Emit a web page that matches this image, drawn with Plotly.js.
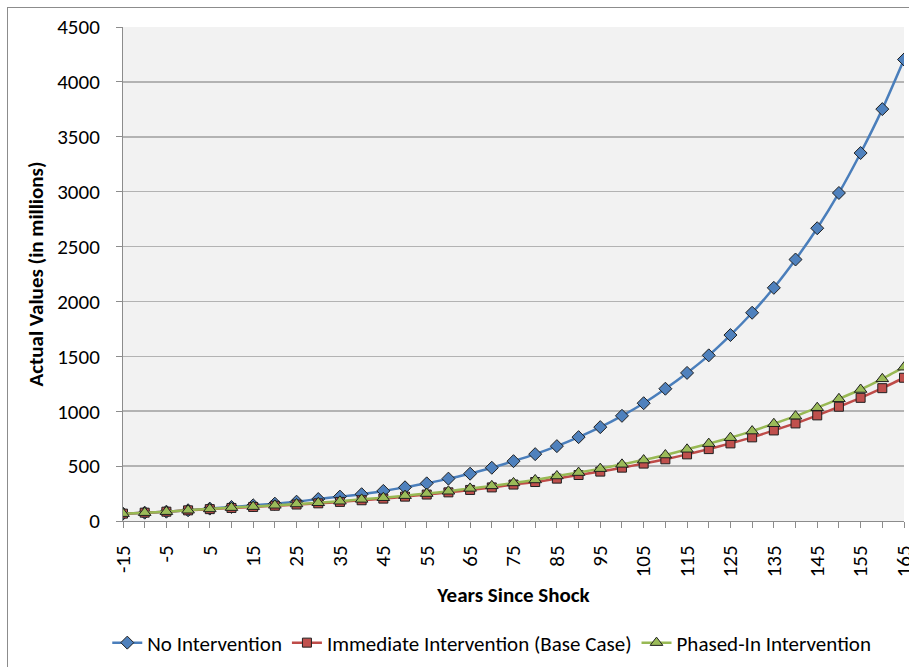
<!DOCTYPE html>
<html>
<head>
<meta charset="utf-8">
<script src="https://cdn.plot.ly/plotly-3.0.1.min.js"></script>
<style>
  html, body { margin: 0; padding: 0; background: #ffffff; }
  #frame { position: absolute; left: 7px; top: 7px; width: 940px; height: 700px; border: 1px solid #8c8c8c; box-sizing: border-box; }
  #chart { position: absolute; left: 0; top: 0; width: 909px; height: 667px; }
</style>
</head>
<body>
<div id="frame"></div>
<div id="chart"></div>
<script>
const years = [-15, -10, -5, 0, 5, 10, 15, 20, 25, 30, 35, 40, 45, 50, 55, 60, 65, 70, 75, 80, 85, 90, 95, 100, 105, 110, 115, 120, 125, 130, 135, 140, 145, 150, 155, 160, 165];

const noIntervention = [67, 76, 85, 98, 113, 128, 143, 158, 176, 200, 222, 244, 274, 307, 343, 386, 431, 485, 545, 609, 682, 764, 855, 958, 1073, 1205, 1349, 1509, 1694, 1897, 2124, 2382, 2667, 2988, 3352, 3752, 4204];

const immediateIntervention = [67, 76, 85, 97, 108, 119, 128, 139, 150, 161, 174, 189, 204, 222, 241, 261, 283, 306, 332, 355, 386, 419, 450, 486, 523, 562, 607, 655, 707, 762, 825, 889, 962, 1041, 1122, 1210, 1305];

const phasedIntervention = [67, 76, 85, 98, 110, 122, 131, 143, 155, 166, 180, 197, 212, 231, 250, 271, 297, 320, 347, 374, 410, 441, 477, 516, 555, 601, 653, 705, 759, 819, 886, 955, 1032, 1113, 1198, 1295, 1401];

const xTickLabels = ["-15", "-5", "5", "15", "25", "35", "45", "55", "65", "75", "85", "95", "105", "115", "125", "135", "145", "155", "165"];

const seriesNames = ["No Intervention", "Immediate Intervention (Base Case)", "Phased-In Intervention"];
const xTitle = "Years Since Shock";
const yTitle = "Actual Values (in millions)";

const FONT = "Carlito, Calibri, 'Liberation Sans Narrow', 'Open Sans', sans-serif";

const traces = [
  {
    x: years, y: noIntervention, name: seriesNames[0], type: "scatter", mode: "lines+markers",
    line: { color: "#4a7ebb", width: 2.5, shape: "spline", smoothing: 0.6 },
    marker: { symbol: "diamond", size: 10, color: "#4f81bd", line: { color: "#1f1f1f", width: 1 } }
  },
  {
    x: years, y: immediateIntervention, name: seriesNames[1], type: "scatter", mode: "lines+markers",
    line: { color: "#be4b48", width: 2.5, shape: "spline", smoothing: 0.6 },
    marker: { symbol: "square", size: 9, color: "#c0504d", line: { color: "#1f1f1f", width: 1 } }
  },
  {
    x: years, y: phasedIntervention, name: seriesNames[2], type: "scatter", mode: "lines+markers",
    line: { color: "#98b954", width: 2.5, shape: "spline", smoothing: 0.6 },
    marker: { symbol: "triangle-up", size: 11, color: "#9bbb59", line: { color: "#1f1f1f", width: 1 } }
  }
];

const layout = {
  width: 909, height: 667,
  margin: { l: 123, r: 5, t: 27, b: 146 },
  paper_bgcolor: "rgba(0,0,0,0)",
  plot_bgcolor: "#f2f2f2",
  font: { family: FONT, size: 21, color: "#000000" },
  showlegend: true,
  legend: {
    orientation: "h", xref: "container", yref: "container",
    x: 0.541, xanchor: "center", y: 0.036, yanchor: "middle",
    font: { family: FONT, size: 21, color: "#000000" },
    itemwidth: 30, tracegroupgap: 0, bgcolor: "rgba(0,0,0,0)"
  },
  xaxis: {
    type: "linear", range: [-15, 165], autorange: false,
    tickmode: "array", tickvals: xTickLabels.map(Number), ticktext: xTickLabels,
    tickangle: -90,
    ticks: "outside", ticklen: 6, tickcolor: "#8c8c8c", tickwidth: 1,
    minor: { dtick: 5, tick0: -15, ticks: "outside", ticklen: 6, tickcolor: "#8c8c8c", tickwidth: 1, showgrid: false },
    showline: true, linecolor: "#8c8c8c", linewidth: 1,
    showgrid: false, zeroline: false,
    ticklabelstandoff: 9,
    ticklabeloverflow: "allow",
    tickfont: { family: FONT, size: 21, color: "#000000" },
    title: { text: "<b>" + xTitle + "</b>", font: { family: FONT, size: 21, color: "#000000" }, standoff: 10 },
    automargin: false
  },
  yaxis: {
    range: [0, 4500], autorange: false, dtick: 500,
    ticks: "outside", ticklen: 6, tickcolor: "#8c8c8c", tickwidth: 1,
    showline: true, linecolor: "#8c8c8c", linewidth: 1,
    showgrid: true, gridcolor: "#b3b3b3", gridwidth: 1.5,
    zeroline: false,
    ticklabelstandoff: 12,
    tickfont: { family: FONT, size: 21, color: "#000000" },
    title: { text: "<b>" + yTitle + "</b>", font: { family: FONT, size: 21, color: "#000000" }, standoff: 7 },
    automargin: false
  }
};

Plotly.newPlot("chart", traces, layout, { displayModeBar: false, staticPlot: true });
</script>
</body>
</html>
